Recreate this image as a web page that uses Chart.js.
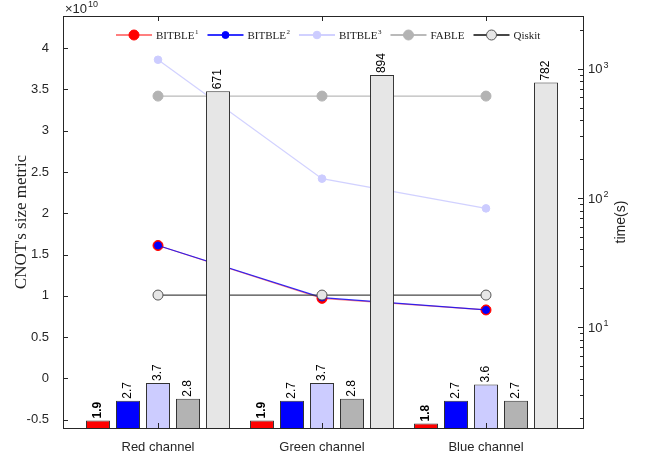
<!DOCTYPE html>
<html>
<head>
<meta charset="utf-8">
<script src="https://cdn.jsdelivr.net/npm/chart.js@4.4.1/dist/chart.umd.min.js"></script>
<style>
  html, body { margin: 0; padding: 0; background: #fff; }
</style>
</head>
<body>
<canvas id="chart" width="649" height="455"></canvas>
<script>
// categories and their positions on the x axis
const channels = ['Red channel', 'Green channel', 'Blue channel'];
const channelPos = [1, 2, 3];

// CNOT's size metric (left axis, lines)
const cnotBitble1 = [1.61e10, 0.97e10, 0.83e10];
const cnotBitble2 = [1.61e10, 0.98e10, 0.83e10];
const cnotBitble3 = [3.86e10, 2.42e10, 2.06e10];
const cnotFable = [3.42e10, 3.42e10, 3.42e10];
const cnotQiskit = [1.01e10, 1.01e10, 1.01e10];

// run time in seconds (right axis, bars)
const timeBitble1 = [1.9, 1.9, 1.8];
const timeBitble2 = [2.7, 2.7, 2.7];
const timeBitble3 = [3.7, 3.7, 3.6];
const timeFable = [2.8, 2.8, 2.7];
const timeQiskit = [671, 894, 782];

// tick labels
const leftTicks = [-0.5, 0, 0.5, 1, 1.5, 2, 2.5, 3, 3.5, 4]; // x 10^10
const rightTicks = [10, 100, 1000];

const SANS = '"Liberation Sans", Arial, sans-serif';
const SERIF = '"Liberation Serif", "Times New Roman", serif';
const AXIS = '#262626';

const pts = vals => channelPos.map((x, i) => ({ x: x, y: vals[i] }));

function barSet(label, vals, color) {
  return {
    type: 'bar', label: label, yAxisID: 'y1', order: 0,
    data: pts(vals),
    backgroundColor: color, borderColor: '#333', borderWidth: 1,
    categoryPercentage: 0.915, barPercentage: 0.8
  };
}

function lineSet(label, vals, line, fill, edge, r, order) {
  return {
    type: 'line', label: label, yAxisID: 'y', order: order,
    data: pts(vals),
    borderColor: line, borderWidth: 1.2, tension: 0,
    pointRadius: r, pointBackgroundColor: fill, pointBorderColor: edge, pointBorderWidth: 1
  };
}

// draws the box, inward ticks, log labels, value labels and the legend
const decor = {
  id: 'decor',
  afterDatasetsDraw(chart) {
    const { ctx, chartArea: a, scales: { x, y, y1 } } = chart;

    // values on top of the bars
    chart.data.datasets.forEach((ds, di) => {
      if (ds.type !== 'bar') return;
      chart.getDatasetMeta(di).data.forEach((bar, i) => {
        const v = ds.data[i].y;
        ctx.save();
        ctx.translate(bar.x, bar.y - 2);
        ctx.rotate(-Math.PI / 2);
        ctx.font = (v < 2 ? 'bold ' : '') + '12px ' + SANS;
        ctx.fillStyle = '#000';
        ctx.textAlign = 'left';
        ctx.textBaseline = 'middle';
        ctx.fillText(String(v), 0, 0);
        ctx.restore();
      });
    });

    ctx.save();
    ctx.strokeStyle = AXIS;
    ctx.lineWidth = 1;
    ctx.beginPath();
    ctx.moveTo(a.left, a.top + 0.5);
    ctx.lineTo(a.right, a.top + 0.5);
    channelPos.forEach(v => {
      const px = Math.round(x.getPixelForValue(v)) + 0.5;
      ctx.moveTo(px, a.top); ctx.lineTo(px, a.top + 5);
      ctx.moveTo(px, a.bottom); ctx.lineTo(px, a.bottom - 5);
    });
    leftTicks.forEach(v => {
      const py = Math.round(y.getPixelForValue(v * 1e10)) + 0.5;
      ctx.moveTo(a.left, py); ctx.lineTo(a.left + 5, py);
    });
    for (let d = 1; d <= 1000; d *= 10) {
      for (let m = 1; m < 10; m++) {
        const v = d * m;
        if (v < y1.min || v > y1.max) continue;
        const py = Math.round(y1.getPixelForValue(v)) + 0.5;
        ctx.moveTo(a.right, py); ctx.lineTo(a.right - (m === 1 ? 5 : 3), py);
      }
    }
    ctx.stroke();

    // log tick labels with superscripts
    ctx.fillStyle = AXIS;
    ctx.textAlign = 'left';
    rightTicks.forEach(v => {
      const py = y1.getPixelForValue(v);
      ctx.font = '13px ' + SANS;
      ctx.textBaseline = 'middle';
      ctx.fillText('10', a.right + 5, py + 1);
      const w = ctx.measureText('10').width;
      ctx.font = '9px ' + SANS;
      ctx.textBaseline = 'alphabetic';
      ctx.fillText(String(Math.round(Math.log10(v))), a.right + 5 + w + 1, py - 1);
    });

    // exponent note of the left axis
    ctx.font = '13px ' + SANS;
    ctx.textBaseline = 'middle';
    ctx.fillText('\u00d710', a.left + 2, 9);
    const ew = ctx.measureText('\u00d710').width;
    ctx.font = '9px ' + SANS;
    ctx.fillText('10', a.left + 2 + ew + 1, 5);

    // right axis title
    ctx.save();
    ctx.translate(621, (a.top + a.bottom) / 2);
    ctx.rotate(-Math.PI / 2);
    ctx.font = '14px ' + SANS;
    ctx.textAlign = 'center';
    ctx.fillText('time(s)', 0, 0);
    ctx.restore();

    // legend
    let lx = 116;
    const ly = 35;
    chart.data.datasets.forEach(ds => {
      if (ds.type !== 'line') return;
      ctx.strokeStyle = ds.borderColor;
      ctx.lineWidth = 2;
      ctx.beginPath();
      ctx.moveTo(lx, ly); ctx.lineTo(lx + 36, ly);
      ctx.stroke();
      ctx.beginPath();
      ctx.arc(lx + 18, ly, ds.pointRadius, 0, Math.PI * 2);
      ctx.fillStyle = ds.pointBackgroundColor;
      ctx.fill();
      ctx.lineWidth = 1;
      ctx.strokeStyle = ds.pointBorderColor;
      ctx.stroke();
      const m = ds.label.match(/^(\D+)(\d*)$/);
      ctx.fillStyle = '#222';
      ctx.font = '11px ' + SERIF;
      ctx.textBaseline = 'middle';
      ctx.fillText(m[1], lx + 40, ly + 1);
      let tw = ctx.measureText(m[1]).width;
      if (m[2]) {
        ctx.font = '7px ' + SERIF;
        ctx.fillText(m[2], lx + 40 + tw + 0.5, ly - 3);
        tw += ctx.measureText(m[2]).width + 0.5;
      }
      lx += 40 + tw + 9;
    });
    ctx.restore();
  }
};

new Chart(document.getElementById('chart'), {
  type: 'bar',
  data: {
    datasets: [
      barSet('BITBLE1', timeBitble1, '#ff0000'),
      barSet('BITBLE2', timeBitble2, '#0000ff'),
      barSet('BITBLE3', timeBitble3, '#ccccff'),
      barSet('FABLE', timeFable, '#b3b3b3'),
      barSet('Qiskit', timeQiskit, '#e6e6e6'),
      lineSet('BITBLE1', cnotBitble1, 'rgba(255,0,0,0.5)', '#ff0000', '#ff0000', 5, 5),
      lineSet('BITBLE2', cnotBitble2, 'rgba(0,0,255,0.8)', '#0000ff', '#0000ff', 3.5, 4),
      lineSet('BITBLE3', cnotBitble3, 'rgba(204,204,255,0.9)', '#ccccff', '#ccccff', 3.8, 3),
      lineSet('FABLE', cnotFable, 'rgba(179,179,179,0.9)', '#b3b3b3', '#b3b3b3', 5, 2),
      lineSet('Qiskit', cnotQiskit, 'rgba(51,51,51,0.9)', '#e6e6e6', '#555555', 5, 1)
    ]
  },
  options: {
    responsive: false,
    animation: false,
    devicePixelRatio: 1,
    layout: { padding: { top: 16, left: 0, right: 0, bottom: 0 } },
    plugins: { legend: { display: false }, tooltip: { enabled: false } },
    events: [],
    scales: {
      x: {
        type: 'linear', min: 0.4207, max: 3.5915, offset: false,
        afterBuildTicks: s => { s.ticks = channelPos.map(v => ({ value: v })); },
        afterFit: s => { s.height = 27; },
        ticks: {
          callback: v => channels[v - 1] || '',
          autoSkip: false, maxRotation: 0, padding: 4,
          color: AXIS, font: { family: SANS, size: 13 }
        },
        grid: { display: false, offset: false },
        border: { color: AXIS, width: 1 }
      },
      y: {
        position: 'left', min: -0.6e10, max: 4.39e10,
        afterBuildTicks: s => { s.ticks = leftTicks.map(v => ({ value: v * 1e10 })); },
        afterFit: s => { s.width = 63; },
        ticks: {
          callback: v => String(Math.round(v / 1e9) / 10),
          padding: 6, color: AXIS, font: { family: SANS, size: 13 }
        },
        grid: { display: false },
        border: { color: AXIS, width: 1 },
        title: {
          display: true, text: "CNOT's size metric", color: '#222',
          font: { family: SERIF, size: 17 }, padding: { top: 11, bottom: 0 }
        }
      },
      y1: {
        type: 'logarithmic', position: 'right', min: 1.66, max: 2562,
        afterFit: s => { s.width = 66; },
        ticks: { display: false },
        grid: { display: false },
        border: { color: AXIS, width: 1 }
      }
    }
  },
  plugins: [decor]
});
</script>
</body>
</html>
